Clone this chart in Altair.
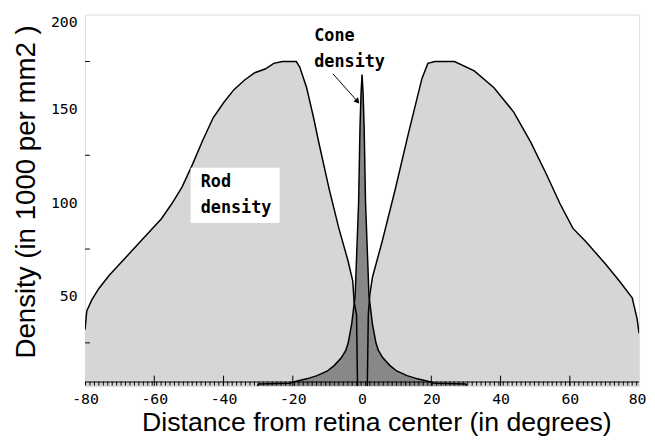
import altair as alt
import pandas as pd

# ---- data ----
rod_deg = [-80, -79.5, -78, -76, -73, -70, -67, -64, -61, -58, -55, -52, -49, -46, -43, -40, -37, -34,
           -31, -28, -25.5, -23, -19, -18, -16, -14, -12.4, -9.5, -6.7, -4.1, -2.7, -2.3, -1.6, -1.3,
           1.5, 1.8, 2.2, 3.0, 5.8, 9.6, 13.3, 17.3, 19, 21, 26.7, 32.4, 38.1, 43.8, 48.7, 53.2, 57.2,
           60.9, 64.6, 70.3, 74.3, 78, 79.4, 80]
rod_val = [32, 42, 48, 54, 61, 67, 73, 79, 85, 91, 99, 108, 120, 133, 145, 153, 160, 165,
           169, 171, 174, 175, 175, 172, 161, 145, 131, 107, 86, 69, 58, 47, 40, 0,
           0, 40, 50, 60, 79, 107, 136, 166, 174, 175, 175, 170, 161, 148, 132, 115, 99,
           86, 79, 67, 58, 49, 38, 30]

cone_deg = [-30.5, -30, -21, -19, -16, -13, -10, -8, -6, -4.7, -4, -3, -2, -1.5, -1, -0.6, -0.3, 0,
            0.3, 0.6, 1, 1.5, 2, 3, 4, 4.7, 6, 8, 10, 13, 16, 19, 21, 30, 30.5]
cone_val = [0, 3, 3.5, 4.5, 5.8, 7.5, 10, 13, 17, 21, 25, 35, 50, 75, 100, 140, 158, 168,
            158, 140, 100, 75, 50, 35, 25, 21, 17, 13, 10, 7.5, 5.8, 4.5, 3.5, 3, 0]

x_labels = [-80, -60, -40, -20, 0, 20, 40, 60, 80]
y_labels = [50, 100, 150, 200]
x_inner_ticks = [-60, -40, -20, 20, 40, 60]
y_inner_ticks = [25, 75, 125, 175]

label_text = ["Cone", "density", "Rod", "density"]
label_x = [-13.8, -13.8, -46.6, -46.6]
label_y = [188.7, 174.7, 110.7, 96.8]

rod_box = {"x": -49.5, "x2": -23.8, "y": 118.4, "y2": 88.9}
arrow = {"x": -8.4, "y": 168.4, "x2": -1.3, "y2": 153.7}

rods = pd.DataFrame({"deg": rod_deg, "val": rod_val})
cones = pd.DataFrame({"deg": cone_deg, "val": cone_val})
labels = pd.DataFrame({"t": label_text, "x": label_x, "y": label_y})

xs = alt.Scale(domain=[-80, 80], nice=False, zero=False)
ys = alt.Scale(domain=[2, 200], nice=False, zero=False)

TITLE_FONT = "Liberation Sans, Arial, sans-serif"
LABEL_FONT = "DejaVu Sans Mono"

x_axis = alt.Axis(values=x_labels, title="Distance from retina center (in degrees)", ticks=False,
                  domain=False, grid=False, labelFont=LABEL_FONT, labelFontSize=15, labelColor="black",
                  labelPadding=6, labelFlush=False, labelExpr="replace(datum.label, '−', '-')",
                  labelAlign=alt.condition("datum.value == 80", alt.value("right"), alt.value("center")),
                  labelOffset=alt.condition("datum.value == 80", alt.value(7), alt.value(0)),
                  titleFont=TITLE_FONT, titleFontSize=27, titleFontWeight="normal", titleColor="black",
                  titleX=295, titleY=45, titleBaseline="alphabetic", titleAlign="center")
y_axis = alt.Axis(values=y_labels, title="Density (in 1000 per mm2 )", ticks=False, domain=False,
                  grid=False, labelFont=LABEL_FONT, labelFontSize=15, labelColor="black",
                  labelPadding=8, labelFlush=True,
                  titleFont=TITLE_FONT, titleFontSize=28, titleFontWeight="normal", titleColor="black",
                  titleX=-51, titleY=179, titleAngle=270, titleBaseline="alphabetic", titleAlign="center")

rod_area = alt.Chart(rods).mark_area(color="#d6d6d6", clip=True, interpolate="linear").encode(
    x=alt.X("deg:Q", scale=xs, axis=x_axis),
    y=alt.Y("val:Q", scale=ys, axis=y_axis),
)
cone_area = alt.Chart(cones).mark_area(color="#888888", clip=True).encode(
    x=alt.X("deg:Q", scale=xs), y=alt.Y("val:Q", scale=ys))
rod_line = alt.Chart(rods).mark_line(color="black", strokeWidth=1.5, clip=True).encode(
    x=alt.X("deg:Q", scale=xs), y=alt.Y("val:Q", scale=ys))
cone_line = alt.Chart(cones).mark_line(color="black", strokeWidth=1.5, clip=True).encode(
    x=alt.X("deg:Q", scale=xs), y=alt.Y("val:Q", scale=ys))

strip_df = pd.DataFrame({"x": [-80], "x2": [80], "yd": [3.3], "yl": [4.1]})
strip_dash = alt.Chart(strip_df).mark_rule(color="black", strokeWidth=4, strokeDash=[1, 3.5]).encode(
    x=alt.X("x:Q", scale=xs), x2="x2:Q", y=alt.Y("yd:Q", scale=ys))
strip_line = alt.Chart(strip_df).mark_rule(color="black", strokeWidth=1).encode(
    x=alt.X("x:Q", scale=xs), x2="x2:Q", y=alt.Y("yl:Q", scale=ys))

xt = pd.DataFrame({"x": x_inner_ticks, "y0": [2] * len(x_inner_ticks), "y1": [7.5] * len(x_inner_ticks)})
x_ticks = alt.Chart(xt).mark_rule(color="black", strokeWidth=1).encode(
    x=alt.X("x:Q", scale=xs), y=alt.Y("y0:Q", scale=ys), y2="y1:Q")
yt = pd.DataFrame({"y": y_inner_ticks, "x0": [-80] * 4, "x1": [-78.6] * 4})
y_ticks = alt.Chart(yt).mark_rule(color="black", strokeWidth=1).encode(
    y=alt.Y("y:Q", scale=ys), x=alt.X("x0:Q", scale=xs), x2="x1:Q")

box = alt.Chart(pd.DataFrame([rod_box])).mark_rect(color="white").encode(
    x=alt.X("x:Q", scale=xs), x2="x2:Q", y=alt.Y("y:Q", scale=ys), y2="y2:Q")
texts = alt.Chart(labels).mark_text(font=LABEL_FONT, fontSize=17, fontWeight="bold", align="left",
                                    baseline="middle", color="black").encode(
    x=alt.X("x:Q", scale=xs), y=alt.Y("y:Q", scale=ys), text="t:N")

arrow_df = pd.DataFrame([arrow])
arrow_line = alt.Chart(arrow_df).mark_rule(color="black", strokeWidth=1).encode(
    x=alt.X("x:Q", scale=xs), y=alt.Y("y:Q", scale=ys), x2="x2:Q", y2="y2:Q")
arrow_head = alt.Chart(arrow_df).mark_point(shape="triangle-down", filled=True, color="black",
                                            size=40, angle=318, opacity=1).encode(
    x=alt.X("x2:Q", scale=xs), y=alt.Y("y2:Q", scale=ys))

chart = alt.layer(rod_area, cone_area, rod_line, cone_line, strip_line, strip_dash, x_ticks, y_ticks,
                  box, texts, arrow_line, arrow_head).properties(
    width=561, height=376,
    padding={"left": 78, "top": 4, "right": 8, "bottom": 51},
    autosize=alt.AutoSizeParams(type="none"),
).configure_view(stroke="black", strokeWidth=2).configure(background="white")

chart.save("out.html", embed_options={"renderer": "svg", "actions": False})
